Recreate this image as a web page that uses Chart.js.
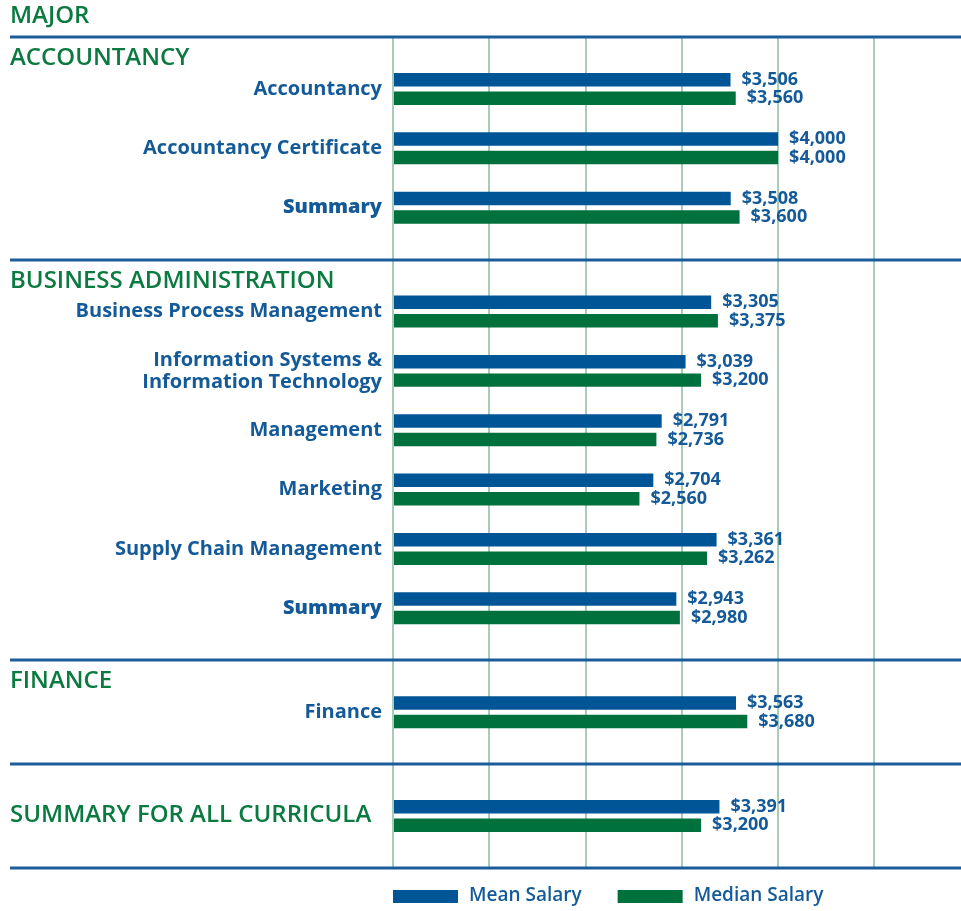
<!DOCTYPE html>
<html>
<head>
<meta charset="utf-8">
<script src="https://cdn.jsdelivr.net/npm/chart.js@4"></script>
<style>
  body { margin: 0; background: #fff; }
  #wrap { width: 961px; height: 911px; position: relative; }
</style>
</head>
<body>
<div id="wrap"><canvas id="salary"></canvas></div>
<script>
// data
var sections = ["ACCOUNTANCY", "BUSINESS ADMINISTRATION", "FINANCE", "SUMMARY FOR ALL CURRICULA"];
var majors = [
	"Accountancy",
	"Accountancy Certificate",
	"Summary",
	"Business Process Management",
	["Information Systems &", "Information Technology"],
	"Management",
	"Marketing",
	"Supply Chain Management",
	"Summary",
	"Finance",
	"",
];
var majorSection = [0, 0, 0, 1, 1, 1, 1, 1, 1, 2, 3];
var meanSalary = [3506, 4000, 3508, 3305, 3039, 2791, 2704, 3361, 2943, 3563, 3391];
var medianSalary = [3560, 4000, 3600, 3375, 3200, 2736, 2560, 3262, 2980, 3680, 3200];
var salaryTicks = [0, 1000, 2000, 3000, 4000, 5000];

var BLUE = "#005596";
var GREEN = "#00703c";
var TEXT_BLUE = "#145a98";
var HEAD_GREEN = "#0b7a40";
var FONT = "'Open Sans', 'DejaVu Sans', sans-serif";

// build the category slots: 3 blank slots before each row, 3 after the last row of a section
var labels = [];
var meanData = [];
var medianData = [];
var sectionStart = [];
var headerSlot = [];
function pushSlot(label, i) {
	labels.push(label);
	meanData.push(i === null ? null : meanSalary[i]);
	medianData.push(i === null ? null : medianSalary[i]);
}
sections.forEach(function (name, s) {
	sectionStart.push(labels.length);
	var rows = [];
	majorSection.forEach(function (sec, i) { if (sec === s) rows.push(i); });
	headerSlot.push(majors[rows[0]] === "" ? labels.length + 3 : labels.length + 1);
	rows.forEach(function (i) {
		for (var b = 0; b < 3; b++) pushSlot("", null);
		pushSlot(majors[i], i);
	});
	for (var b = 0; b < 3; b++) pushSlot("", null);
});
sectionStart.push(labels.length);

var fmt = function (v) { return "$" + v.toLocaleString("en-US"); };

var decorations = {
	id: "decorations",
	afterDraw: function (chart) {
		var c = chart.ctx;
		var area = chart.chartArea;
		var y = chart.scales.y;
		var slot = y.getPixelForValue(1) - y.getPixelForValue(0);
		c.save();
		// section rules
		c.strokeStyle = "#1c5c9a";
		c.lineWidth = 3;
		sectionStart.forEach(function (b) {
			var py = Math.round(y.getPixelForValue(b) - slot / 2);
			c.beginPath();
			c.moveTo(10, py);
			c.lineTo(chart.width, py);
			c.stroke();
		});
		// headers
		c.fillStyle = HEAD_GREEN;
		c.font = "600 24px " + FONT;
		c.textAlign = "left";
		c.textBaseline = "middle";
		c.fillText("MAJOR", 10, 16);
		sections.forEach(function (name, s) {
			c.fillText(name, 10, y.getPixelForValue(headerSlot[s]) - 1);
		});
		// value labels
		c.fillStyle = TEXT_BLUE;
		c.font = "bold 18px " + FONT;
		chart.data.datasets.forEach(function (ds, d) {
			chart.getDatasetMeta(d).data.forEach(function (bar, i) {
				if (ds.data[i] === null) return;
				c.fillText(fmt(ds.data[i]), bar.x + 11, bar.y);
			});
		});
		// legend
		c.font = "600 19px " + FONT;
		var lx = area.left;
		chart.data.datasets.forEach(function (ds) {
			c.fillStyle = ds.backgroundColor;
			c.fillRect(lx, 890, 65, 13);
			c.fillStyle = TEXT_BLUE;
			c.fillText(ds.label, lx + 76, 896);
			lx += 76 + c.measureText(ds.label).width + 36;
		});
		c.restore();
	},
};

var salaryChart = new Chart(document.getElementById("salary").getContext("2d"), {
	type: "bar",
	data: {
		labels: labels,
		datasets: [
			{
				label: "Mean Salary",
				data: meanData,
				backgroundColor: BLUE,
				categoryPercentage: 2.49,
				barPercentage: 0.73,
			},
			{
				label: "Median Salary",
				data: medianData,
				backgroundColor: GREEN,
				categoryPercentage: 2.49,
				barPercentage: 0.73,
			},
		],
	},
	options: {
		indexAxis: "y",
		responsive: true,
		maintainAspectRatio: false,
		animation: false,
		layout: { padding: { top: 37, bottom: 43, left: 0, right: 0 } },
		plugins: {
			legend: { display: false },
			tooltip: { enabled: false },
		},
		scales: {
			x: {
				min: 0,
				max: 5900,
				afterBuildTicks: function (scale) {
					scale.ticks = salaryTicks.map(function (v) { return { value: v }; });
				},
				ticks: { display: false },
				grid: { drawTicks: false, lineWidth: 2, color: "#a7cdb9" },
				border: { display: false },
			},
			y: {
				grid: { display: false, drawTicks: false },
				border: { display: false },
				afterFit: function (scale) { scale.width = 393; },
				ticks: {
					autoSkip: false,
					padding: 11,
					color: TEXT_BLUE,
					font: function (ctx) {
						var lbl = ctx.tick ? ctx.tick.label : "";
						return { family: FONT, size: 20, weight: lbl === "Summary" ? "800" : "bold", lineHeight: 1.1 };
					},
				},
			},
		},
	},
	plugins: [decorations],
});
</script>
</body>
</html>
